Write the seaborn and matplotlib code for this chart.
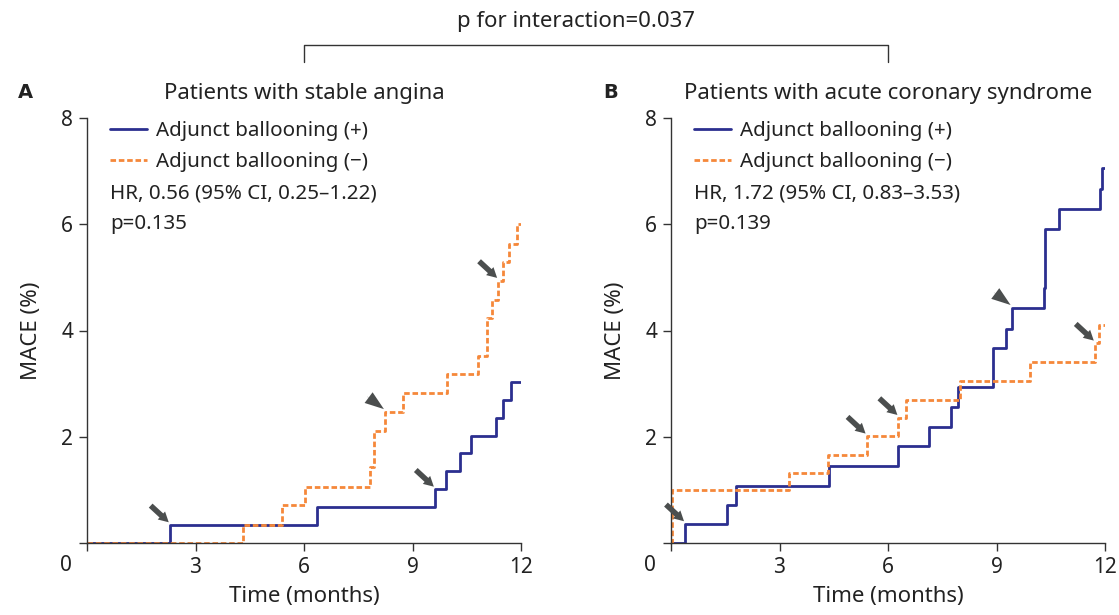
import numpy as np
import pandas as pd
import matplotlib
matplotlib.use("Agg")
import matplotlib.pyplot as plt
import seaborn as sns

# ---------------- data ----------------
# Panel A: stable angina
a_plus_t = [2.29, 6.37, 9.62, 9.94, 10.31, 10.63, 11.31, 11.49, 11.72]
a_plus_v = [0.34, 0.68, 1.01, 1.36, 1.69, 2.02, 2.35, 2.69, 3.03]
a_minus_t = [4.32, 5.38, 6.04, 7.82, 7.93, 8.24, 8.73, 9.95, 10.80, 11.07, 11.21, 11.37, 11.49, 11.67, 11.88]
a_minus_v = [0.34, 0.71, 1.06, 1.44, 2.10, 2.47, 2.83, 3.18, 3.52, 4.23, 4.58, 4.94, 5.29, 5.63, 6.00]
# Panel B: acute coronary syndrome
b_plus_t = [0.39, 1.56, 1.79, 4.37, 6.29, 7.12, 7.74, 7.94, 8.90, 9.25, 9.42, 10.30, 10.33, 10.72, 11.87, 11.93]
b_plus_v = [0.36, 0.72, 1.07, 1.45, 1.82, 2.18, 2.56, 2.93, 3.68, 4.03, 4.43, 4.80, 5.91, 6.29, 6.66, 7.06]
b_minus_t = [0.03, 3.26, 4.35, 5.41, 6.29, 6.49, 7.99, 9.93, 11.72, 11.83]
b_minus_v = [0.99, 1.32, 1.66, 2.01, 2.36, 2.70, 3.05, 3.40, 3.76, 4.10]

follow_up_end = 12.0
groups = ["Adjunct ballooning (+)", "Adjunct ballooning (\u2212)"]
titles = ["Patients with stable angina", "Patients with acute coronary syndrome"]
panel_letters = ["A", "B"]
hr_texts = ["HR, 0.56 (95% CI, 0.25\u20131.22)\np=0.135", "HR, 1.72 (95% CI, 0.83\u20133.53)\np=0.139"]
interaction_text = "p for interaction=0.037"
x_ticks = [0, 3, 6, 9, 12]
y_ticks = [0, 2, 4, 6, 8]

# arrow markers: (group index, step index, kind)
arrows_a = [(0, 0, "arrow"), (0, 2, "arrow"), (1, 5, "tri"), (1, 11, "arrow")]
arrows_b = [(0, 0, "arrow"), (1, 3, "arrow"), (1, 4, "arrow"), (0, 10, "tri"), (1, 8, "arrow")]

# ---------------- style ----------------
sns.set_theme(style="ticks")
plt.rcParams["font.family"] = ["Noto Sans", "DejaVu Sans"]
BLUE = "#2b2f8f"
ORANGE = "#f5883a"
GREY = "#4b4e4e"
TXT = "#222222"

fig = plt.figure(figsize=(11.19, 6.15), dpi=100)
W, H = 1119, 615
def rect(x0, x1, ytop, ybot):
    return [x0 / W, 1 - ybot / H, (x1 - x0) / W, (ybot - ytop) / H]

axA = fig.add_axes(rect(87, 521, 118, 543))
axB = fig.add_axes(rect(671, 1105, 118, 543))


def make_df(tp, vp, tm, vm):
    rows = []
    for g, ts, vs in [(groups[0], tp, vp), (groups[1], tm, vm)]:
        tt = [0.0] + list(ts) + [follow_up_end]
        vv = [0.0] + list(vs) + [vs[-1]]
        for t, v in zip(tt, vv):
            rows.append({"time": t, "mace": v, "group": g})
    return pd.DataFrame(rows)


panels = [
    (axA, (a_plus_t, a_plus_v, a_minus_t, a_minus_v), arrows_a),
    (axB, (b_plus_t, b_plus_v, b_minus_t, b_minus_v), arrows_b),
]

for i, (ax, series, arrows) in enumerate(panels):
    df = make_df(*series)
    sns.lineplot(data=df, x="time", y="mace", hue="group", style="group",
                 palette={groups[0]: BLUE, groups[1]: ORANGE},
                 dashes={groups[0]: "", groups[1]: (2.0, 1.0)},
                 estimator=None, sort=False, drawstyle="steps-post",
                 linewidth=2.0, ax=ax)
    ax.set_xlim(0, 12)
    ax.set_ylim(0, 8)
    ax.set_xticks(x_ticks)
    ax.set_yticks(y_ticks)
    ax.set_xticklabels([""] + [str(t) for t in x_ticks[1:]])
    ax.set_yticklabels([""] + [str(t) for t in y_ticks[1:]])
    ax.tick_params(axis="both", labelsize=15, length=6, width=1.0, colors="#333333",
                   labelcolor=TXT, direction="out", pad=4)
    sns.despine(ax=ax)
    for sp in ["left", "bottom"]:
        ax.spines[sp].set_color("#333333")
        ax.spines[sp].set_linewidth(1.0)
    ax.set_xlabel("Time (months)", fontsize=16, color=TXT, labelpad=6)
    ax.set_ylabel("MACE (%)", fontsize=16, color=TXT, labelpad=14)
    ax.annotate("0", xy=(0, 0), xytext=(-15, -16), textcoords="offset points",
                ha="center", va="center", fontsize=15, color=TXT, annotation_clip=False)
    ax.set_title(titles[i], fontsize=16, color=TXT, pad=14)
    ax.text(-0.16 if i == 0 else -0.155, 1.06, panel_letters[i], transform=ax.transAxes,
            fontsize=14, fontweight="bold", family="DejaVu Sans", color=TXT,
            ha="left", va="center")
    handles, labels = ax.get_legend_handles_labels()
    ax.legend(handles, labels, loc="upper left", bbox_to_anchor=(0.053, 0.993), frameon=False,
              fontsize=14.8, handlelength=1.8, handletextpad=0.45, labelspacing=0.55,
              borderpad=0, borderaxespad=0, labelcolor=TXT)
    ax.text(0.053, 0.845, hr_texts[i], transform=ax.transAxes, fontsize=14.8,
            color=TXT, ha="left", va="top", linespacing=1.68)

    # arrows
    for gi, si, kind in arrows:
        ts = series[0] if gi == 0 else series[2]
        vs = series[1] if gi == 0 else series[3]
        x, y = ts[si], vs[si]
        if kind == "arrow":
            ax.annotate("", xy=(x - 0.03, y + 0.05), xytext=(-13, 12), textcoords="offset points",
                        arrowprops=dict(arrowstyle="simple,head_length=0.6,head_width=0.65,tail_width=0.33",
                                        color=GREY, lw=0, shrinkA=0, shrinkB=0))
        else:
            ax.annotate("", xy=(x - 0.03, y + 0.05), xytext=(-12, 9), textcoords="offset points",
                        arrowprops=dict(arrowstyle="simple,head_length=1.15,head_width=0.8,tail_width=0.01",
                                        color=GREY, lw=0, shrinkA=0, shrinkB=0))

# interaction bracket (figure coords)
bx0, bx1, by0, by1 = 304 / W, 888 / W, 1 - 45 / H, 1 - 62 / H
fig.add_artist(plt.Line2D([bx0, bx0, bx1, bx1], [by1, by0, by0, by1], color="#333333", lw=1.0))
fig.text(576 / W, 1 - 22 / H, interaction_text, ha="center", va="center", fontsize=16, color=TXT)

fig.savefig("out.png", dpi=100)
